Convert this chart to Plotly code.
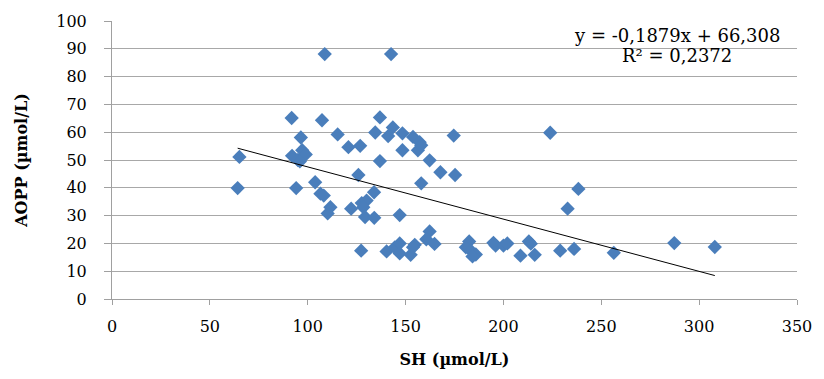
import plotly.graph_objects as go

sh = [108.7, 142.6, 91.8, 107.3, 136.9, 143.5, 96.5, 115.3, 134.5, 141.1,
      148.4, 153.8, 120.8, 126.8, 148.4, 156.3, 157.2, 158.0, 65.1,
      92.0, 95.0, 97.2, 99.0, 96.0, 136.9, 125.9, 103.8, 64.2, 94.1,
      133.9, 106.5, 108.2, 111.6, 110.2, 122.2, 127.6, 130.1, 128.4, 129.3,
      134.0, 147.0, 127.3, 140.3, 144.5, 147.0, 147.0, 152.6, 154.7, 153.8,
      162.3, 167.8, 175.3, 158.0, 238.3, 232.8, 162.3, 160.6, 164.8,
      182.5, 180.8, 183.4, 185.9, 184.2, 194.9, 196.0, 200.0, 202.0,
      213.0, 214.0, 208.7, 216.0, 229.0, 236.1, 256.4, 287.3, 308.0,
      174.6, 223.9]
aopp = [88.1, 88.1, 65.1, 64.3, 65.3, 61.7, 58.1, 59.2, 59.9, 58.6,
        59.6, 58.3, 54.6, 55.1, 53.5, 53.5, 56.4, 55.3, 51.1,
        51.5, 50.0, 53.5, 52.0, 49.5, 49.6, 44.6, 42.0, 39.9, 39.9,
        38.4, 37.9, 37.2, 33.0, 30.8, 32.5, 34.5, 35.4, 33.0, 29.5,
        29.2, 30.2, 17.4, 17.1, 18.6, 20.0, 16.4, 15.9, 19.5, 18.6,
        49.9, 45.6, 44.6, 41.6, 39.6, 32.5, 24.3, 21.5, 19.8,
        20.7, 18.6, 17.4, 16.0, 15.3, 20.2, 19.2, 19.2, 20.0,
        20.7, 19.9, 15.6, 15.9, 17.4, 18.0, 16.6, 20.1, 18.7,
        58.8, 59.8]

slope = -0.1879
intercept = 66.308
eq_text = "y = -0,1879x + 66,308"
r2_text = "R² = 0,2372"

x_ticks = [0, 50, 100, 150, 200, 250, 300, 350]
y_ticks = [0, 10, 20, 30, 40, 50, 60, 70, 80, 90, 100]

xmin, xmax = min(sh), max(sh)
trend_x = [xmin, xmax]
trend_y = [slope * v + intercept for v in trend_x]

font = "DejaVu Serif"
fig = go.Figure()
fig.add_trace(go.Scatter(x=sh, y=aopp, mode="markers",
                         marker=dict(symbol="diamond", size=11, color="#4a7ebb",
                                     line=dict(width=0)),
                         showlegend=False))
fig.add_trace(go.Scatter(x=trend_x, y=trend_y, mode="lines",
                         line=dict(color="black", width=1), showlegend=False))

fig.update_layout(
    width=824, height=379,
    margin=dict(l=112, r=20, t=17, b=80),
    paper_bgcolor="white", plot_bgcolor="white",
    font=dict(family=font, size=16, color="black"),
    xaxis=dict(range=[0, 350], tickvals=x_ticks, showgrid=False, zeroline=False,
               showline=True, linecolor="#a0a0a0", linewidth=1,
               ticks="outside", ticklen=5, tickcolor="#a0a0a0",
               ticklabelstandoff=8,
               title=dict(text="<b>SH (µmol/L)</b>", font=dict(size=16), standoff=18)),
    yaxis=dict(range=[0, 100], tickvals=y_ticks, showgrid=True, gridcolor="#a8a8a8",
               gridwidth=1, zeroline=False, showline=True, linecolor="#a0a0a0",
               linewidth=1, ticks="outside", ticklen=7, tickcolor="#a0a0a0",
               ticklabelstandoff=14,
               title=dict(text="<b>AOPP (µmol/L)</b>", font=dict(size=16), standoff=24)),
)
fig.add_annotation(x=0.825, y=0.948, xref="paper", yref="paper", text=eq_text,
                   showarrow=False, font=dict(size=18, family=font),
                   xanchor="center", yanchor="middle")
fig.add_annotation(x=0.825, y=0.876, xref="paper", yref="paper", text=r2_text,
                   showarrow=False, font=dict(size=18, family=font),
                   xanchor="center", yanchor="middle")

fig.write_html("out.html")
